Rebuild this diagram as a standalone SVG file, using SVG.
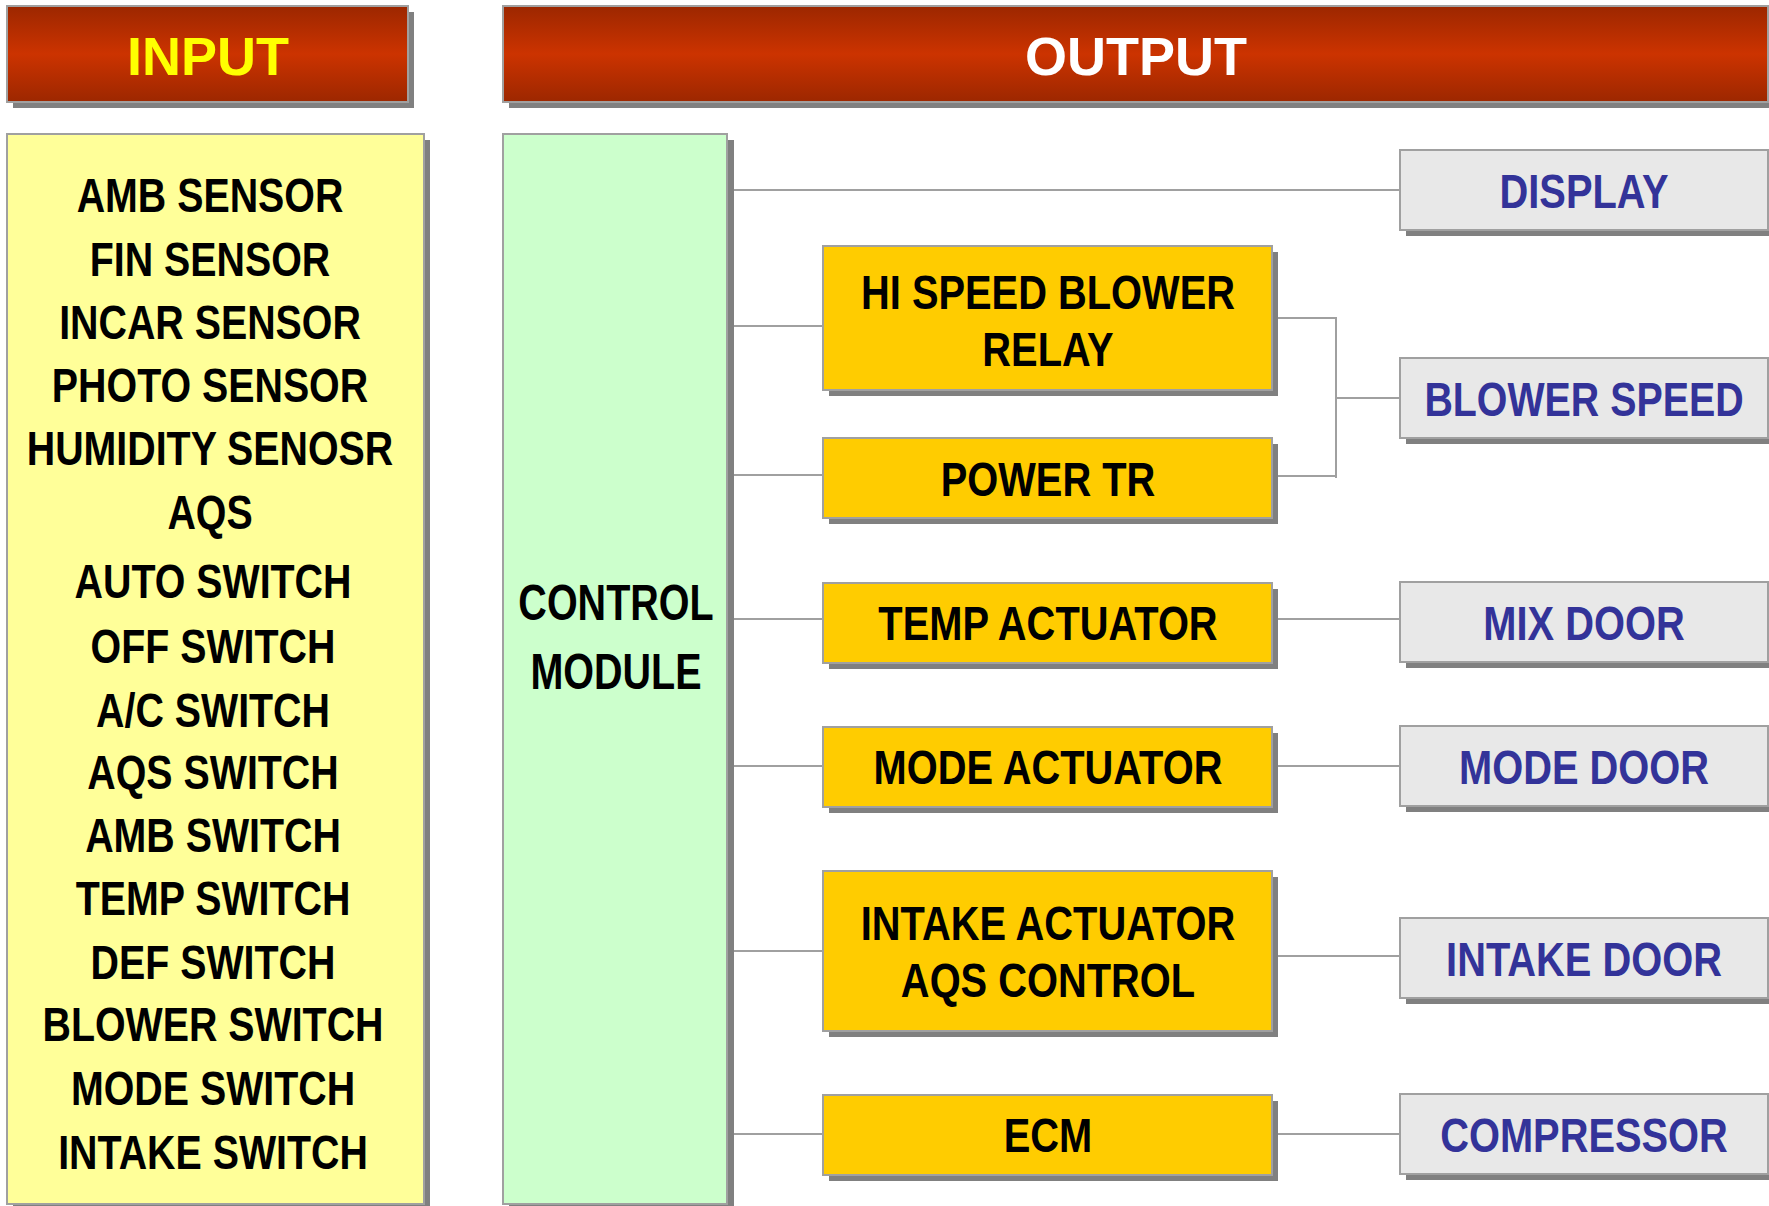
<svg xmlns="http://www.w3.org/2000/svg" width="1769" height="1206" viewBox="0 0 1769 1206">
<defs>
<linearGradient id="hdr" x1="0" y1="0" x2="0" y2="1">
<stop offset="0" stop-color="#9C2700"/>
<stop offset="0.5" stop-color="#CC3300"/>
<stop offset="1" stop-color="#9C2700"/>
</linearGradient>
</defs>
<style>
.sh{fill:#808080}
.box{stroke:#A0A0A0;stroke-width:2}
.hdr{fill:url(#hdr)}
.inp{fill:#FFFF99}
.ctl{fill:#CCFFCC}
.act{fill:#FFCC00}
.out{fill:#E8E8E8}
.t{font-family:"Liberation Sans",Arial,sans-serif;font-weight:bold;text-anchor:middle}
.tb{font-size:48px;fill:#000}
.tc{font-size:50px;fill:#000}
.tu{font-size:48px;fill:#333399}
.th{font-size:54px}
.ln{stroke:#A0A0A0;stroke-width:2;fill:none}
</style>
<g id="connectors">
<line class="ln" x1="728" y1="190" x2="1400" y2="190"/>
<line class="ln" x1="728" y1="326" x2="823" y2="326"/>
<line class="ln" x1="728" y1="475" x2="823" y2="475"/>
<line class="ln" x1="728" y1="619" x2="823" y2="619"/>
<line class="ln" x1="728" y1="766" x2="823" y2="766"/>
<line class="ln" x1="728" y1="951" x2="823" y2="951"/>
<line class="ln" x1="728" y1="1134" x2="823" y2="1134"/>
<polyline class="ln" points="1272,318 1336,318 1336,478"/>
<line class="ln" x1="1272" y1="476" x2="1336" y2="476"/>
<line class="ln" x1="1336" y1="398" x2="1400" y2="398"/>
<line class="ln" x1="1272" y1="619" x2="1400" y2="619"/>
<line class="ln" x1="1272" y1="766" x2="1400" y2="766"/>
<line class="ln" x1="1272" y1="956" x2="1400" y2="956"/>
<line class="ln" x1="1272" y1="1134" x2="1400" y2="1134"/>
</g>
<g id="input-header">
<rect class="sh" x="13" y="12" width="401" height="96"/>
<rect class="hdr box" x="7" y="6" width="401" height="96"/>
<text class="t th" x="208" y="75" fill="#FFFF00">INPUT</text>
</g>
<g id="output-header">
<rect class="sh" x="509" y="12" width="1265" height="96"/>
<rect class="hdr box" x="503" y="6" width="1265" height="96"/>
<text class="t th" x="1136" y="75" fill="#FFFFFF">OUTPUT</text>
</g>
<g id="inputs">
<rect class="sh" x="13" y="140" width="417" height="1070"/>
<rect class="inp box" x="7" y="134" width="417" height="1070"/>
<text class="t tb" transform="translate(210,212) scale(0.82,1)">AMB SENSOR</text>
<text class="t tb" transform="translate(210,276) scale(0.82,1)">FIN SENSOR</text>
<text class="t tb" transform="translate(210,339) scale(0.82,1)">INCAR SENSOR</text>
<text class="t tb" transform="translate(210,402) scale(0.82,1)">PHOTO SENSOR</text>
<text class="t tb" transform="translate(210,465) scale(0.82,1)">HUMIDITY SENOSR</text>
<text class="t tb" transform="translate(210,529) scale(0.82,1)">AQS</text>
<text class="t tb" transform="translate(213,598) scale(0.82,1)">AUTO SWITCH</text>
<text class="t tb" transform="translate(213,663) scale(0.82,1)">OFF SWITCH</text>
<text class="t tb" transform="translate(213,727) scale(0.82,1)">A/C SWITCH</text>
<text class="t tb" transform="translate(213,789) scale(0.82,1)">AQS SWITCH</text>
<text class="t tb" transform="translate(213,852) scale(0.82,1)">AMB SWITCH</text>
<text class="t tb" transform="translate(213,915) scale(0.82,1)">TEMP SWITCH</text>
<text class="t tb" transform="translate(213,979) scale(0.82,1)">DEF SWITCH</text>
<text class="t tb" transform="translate(213,1041) scale(0.82,1)">BLOWER SWITCH</text>
<text class="t tb" transform="translate(213,1105) scale(0.82,1)">MODE SWITCH</text>
<text class="t tb" transform="translate(213,1169) scale(0.82,1)">INTAKE SWITCH</text>
</g>
<g id="control-module">
<rect class="sh" x="509" y="140" width="225" height="1070"/>
<rect class="ctl box" x="503" y="134" width="224" height="1070"/>
<text class="t tc" transform="translate(616,620) scale(0.79,1)">CONTROL</text>
<text class="t tc" transform="translate(616,689) scale(0.79,1)">MODULE</text>
</g>
<g id="hi-speed-blower-relay">
<rect class="sh" x="829" y="252" width="449" height="144"/>
<rect class="act box" x="823" y="246" width="449" height="144"/>
<text class="t tb" transform="translate(1048,309) scale(0.83,1)">HI SPEED BLOWER</text>
<text class="t tb" transform="translate(1048,366) scale(0.83,1)">RELAY</text>
</g>
<g id="power-tr">
<rect class="sh" x="829" y="444" width="449" height="80"/>
<rect class="act box" x="823" y="438" width="449" height="80"/>
<text class="t tb" transform="translate(1048,496) scale(0.83,1)">POWER TR</text>
</g>
<g id="temp-actuator">
<rect class="sh" x="829" y="589" width="449" height="80"/>
<rect class="act box" x="823" y="583" width="449" height="80"/>
<text class="t tb" transform="translate(1048,640) scale(0.83,1)">TEMP ACTUATOR</text>
</g>
<g id="mode-actuator">
<rect class="sh" x="829" y="733" width="449" height="80"/>
<rect class="act box" x="823" y="727" width="449" height="80"/>
<text class="t tb" transform="translate(1048,784) scale(0.83,1)">MODE ACTUATOR</text>
</g>
<g id="intake-actuator">
<rect class="sh" x="829" y="877" width="449" height="160"/>
<rect class="act box" x="823" y="871" width="449" height="160"/>
<text class="t tb" transform="translate(1048,940) scale(0.83,1)">INTAKE ACTUATOR</text>
<text class="t tb" transform="translate(1048,997) scale(0.83,1)">AQS CONTROL</text>
</g>
<g id="ecm">
<rect class="sh" x="829" y="1101" width="449" height="80"/>
<rect class="act box" x="823" y="1095" width="449" height="80"/>
<text class="t tb" transform="translate(1048,1152) scale(0.83,1)">ECM</text>
</g>
<g id="display">
<rect class="sh" x="1406" y="156" width="368" height="80"/>
<rect class="out box" x="1400" y="150" width="368" height="80"/>
<text class="t tu" transform="translate(1584,208) scale(0.83,1)">DISPLAY</text>
</g>
<g id="blower-speed">
<rect class="sh" x="1406" y="364" width="368" height="80"/>
<rect class="out box" x="1400" y="358" width="368" height="80"/>
<text class="t tu" transform="translate(1584,416) scale(0.82,1)">BLOWER SPEED</text>
</g>
<g id="mix-door">
<rect class="sh" x="1406" y="588" width="368" height="80"/>
<rect class="out box" x="1400" y="582" width="368" height="80"/>
<text class="t tu" transform="translate(1584,640) scale(0.83,1)">MIX DOOR</text>
</g>
<g id="mode-door">
<rect class="sh" x="1406" y="732" width="368" height="80"/>
<rect class="out box" x="1400" y="726" width="368" height="80"/>
<text class="t tu" transform="translate(1584,784) scale(0.83,1)">MODE DOOR</text>
</g>
<g id="intake-door">
<rect class="sh" x="1406" y="924" width="368" height="80"/>
<rect class="out box" x="1400" y="918" width="368" height="80"/>
<text class="t tu" transform="translate(1584,976) scale(0.83,1)">INTAKE DOOR</text>
</g>
<g id="compressor">
<rect class="sh" x="1406" y="1100" width="368" height="80"/>
<rect class="out box" x="1400" y="1094" width="368" height="80"/>
<text class="t tu" transform="translate(1584,1152) scale(0.83,1)">COMPRESSOR</text>
</g>
</svg>
